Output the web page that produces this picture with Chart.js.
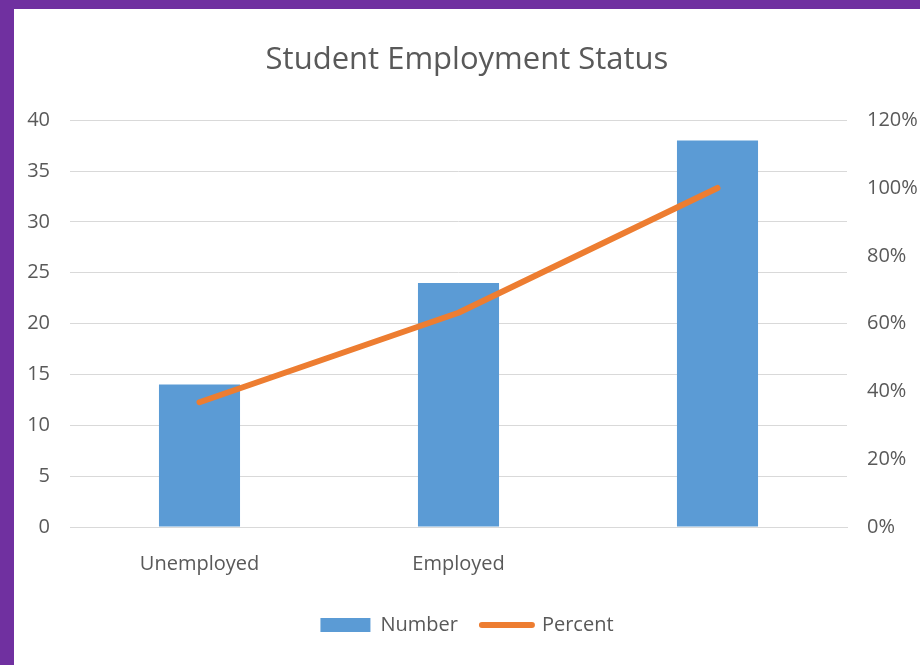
<!DOCTYPE html>
<html>
<head>
<meta charset="utf-8">
<script src="https://cdn.jsdelivr.net/npm/chart.js@4"></script>
<style>
  html, body { margin: 0; padding: 0; background: #7030a0; overflow: hidden; }
  #frame { position: absolute; left: 14px; top: 9px; width: 906px; height: 656px; background: #fff; }
</style>
</head>
<body>
<div id="frame"><canvas id="chart" width="906" height="656"></canvas></div>
<script>
const categories = ['Unemployed', 'Employed', ''];
const numbers = [14, 24, 38];
const percents = [36.8, 63.2, 100];
const leftTicks = [0, 5, 10, 15, 20, 25, 30, 35, 40];
const rightTicks = [0, 20, 40, 60, 80, 100, 120];

const grey = '#595959';
const blue = '#5b9bd5';
const orange = '#ed7d31';
const font = "'Open Sans', sans-serif";

const ctx = document.getElementById('chart');

new Chart(ctx, {
    data: {
        labels: categories,
        datasets: [
            {
                type: 'line',
                label: 'Percent',
                data: percents,
                yAxisID: 'y1',
                borderColor: orange,
                backgroundColor: orange,
                borderWidth: 6,
                borderCapStyle: 'round',
                borderJoinStyle: 'round',
                pointRadius: 0,
                tension: 0,
                order: 0,
            },
            {
                type: 'bar',
                label: 'Number',
                data: numbers,
                yAxisID: 'y',
                backgroundColor: blue,
                categoryPercentage: 1,
                barPercentage: 0.313,
                order: 1,
            },
        ],
    },
    options: {
        responsive: false,
        animation: false,
        layout: { padding: { left: 0, right: 0, top: 0, bottom: 20 } },
        plugins: {
            title: {
                display: true,
                text: 'Student Employment Status',
                color: grey,
                font: { family: font, size: 31, weight: 'normal' },
                padding: { top: 33, bottom: 41 },
            },
            legend: {
                position: 'bottom',
                labels: {
                    color: grey,
                    font: { family: font, size: 20 },
                    usePointStyle: true,
                    pointStyleWidth: 50,
                    boxHeight: 14,
                    padding: 24,
                    generateLabels: () => [
                        { text: 'Number', fillStyle: blue, strokeStyle: blue, lineWidth: 0, pointStyle: 'rect', datasetIndex: 1, fontColor: grey },
                        { text: 'Percent', fillStyle: orange, strokeStyle: orange, lineWidth: 6, lineCap: 'round', pointStyle: 'line', datasetIndex: 0, fontColor: grey },
                    ],
                },
            },
            tooltip: { enabled: false },
        },
        scales: {
            x: {
                grid: { display: false, drawTicks: false },
                border: { display: true, color: '#d9d9d9', width: 1 },
                ticks: {
                    color: grey,
                    font: { family: font, size: 20 },
                    padding: 25,
                    maxRotation: 0,
                },
                afterFit: (scale) => { scale.height = 64; },
            },
            y: {
                position: 'left',
                min: 0,
                max: 40,
                afterBuildTicks: (scale) => { scale.ticks = leftTicks.map(v => ({ value: v })); },
                grid: { color: '#d9d9d9', drawTicks: false },
                border: { display: false },
                ticks: {
                    color: grey,
                    font: { family: font, size: 20 },
                    padding: 20,
                },
                afterFit: (scale) => { scale.width = 56; },
            },
            y1: {
                position: 'right',
                min: 0,
                max: 120,
                afterBuildTicks: (scale) => { scale.ticks = rightTicks.map(v => ({ value: v })); },
                grid: { display: false, drawTicks: false },
                border: { display: false },
                ticks: {
                    color: grey,
                    font: { family: font, size: 20 },
                    padding: 20,
                    callback: (v) => v + '%',
                },
                afterFit: (scale) => { scale.width = 73; },
            },
        },
    },
});
</script>
</body>
</html>
